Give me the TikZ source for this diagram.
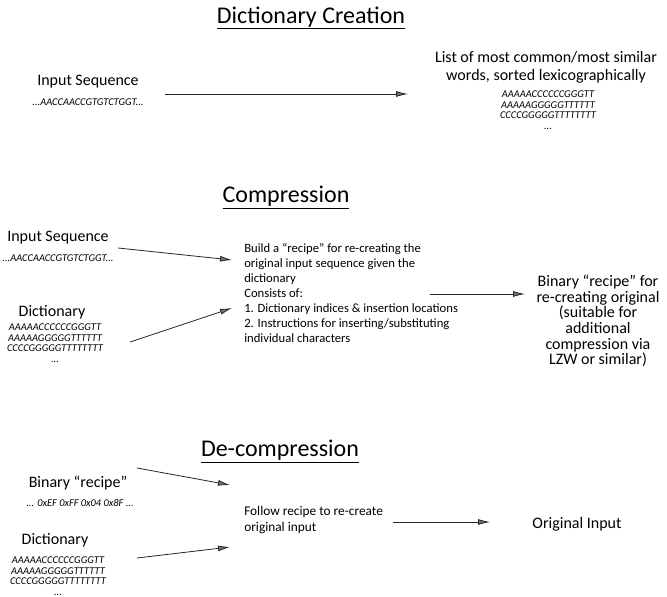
\documentclass[tikz,border=0pt]{standalone}
\usepackage{fontspec}
\setmainfont{Carlito}
\usetikzlibrary{arrows.meta}

\tikzset{
  heading/.style={font=\fontsize{18}{22}\selectfont, inner sep=0pt},
  lbl/.style={font=\fontsize{12}{13.5}\selectfont, align=center, inner sep=0pt},
  seqs/.style={font=\fontsize{7.8}{8}\selectfont\itshape, align=center, inner sep=0pt},
  note/.style={font=\fontsize{9.5}{11.25}\selectfont, align=left, inner sep=0pt, anchor=west},
  result/.style={font=\fontsize{12}{11.7}\selectfont, align=center, inner sep=0pt},
  flow/.style={draw=black!85, line width=0.6pt, -{Latex[length=9pt,width=4.5pt,fill=black!55]}}
}

\begin{document}
\begin{tikzpicture}[x=0.75pt,y=-0.75pt]
\useasboundingbox (0,0) rectangle (667,596);

% dictionary creation
\node[heading] (t1) at (311,18) {\underline{Dictionary Creation}};
\node[lbl] (in1) at (88,82) {Input Sequence};
\node[seqs] (sq1) at (88,102) {...AACCAACCGTGTCTGGT...};
\node[lbl] (ls1) at (546,67) {List of most common/most similar\\words, sorted lexicographically};
\node[seqs] (dc1) at (548,110) {AAAAACCCCCCGGGTT\\AAAAAGGGGGTTTTTT\\CCCCGGGGGTTTTTTTT\\...};
\coordinate (c1s) at (165,94);
\coordinate (c1e) at (408,94);
\draw[flow] (c1s) -- (c1e);

% compression
\node[heading] (t2) at (286,198) {\underline{Compression}};
\node[lbl] (in2) at (58,238) {Input Sequence};
\node[seqs] (sq2) at (58,258) {...AACCAACCGTGTCTGGT...};
\node[lbl] (dn2) at (52,312) {Dictionary};
\node[seqs] (dc2) at (55,343) {AAAAACCCCCCGGGTT\\AAAAAGGGGGTTTTTT\\CCCCGGGGGTTTTTTTT\\...};
\node[note] (nt2) at (244,293) {Build a “recipe” for re-creating the\\original input sequence given the\\dictionary\\Consists of:\\1. Dictionary indices \& insertion locations\\2. Instructions for inserting/substituting\\individual characters};
\node[result] (out2) at (598,321) {Binary “recipe” for\\re-creating original\\(suitable for\\additional\\compression via\\LZW or similar)};
\coordinate (c2as) at (118,248);
\coordinate (c2ae) at (232,260);
\coordinate (c2bs) at (130,342);
\coordinate (c2be) at (232,308);
\coordinate (c2cs) at (430,294);
\coordinate (c2ce) at (525,294);
\draw[flow] (c2as) -- (c2ae);
\draw[flow] (c2bs) -- (c2be);
\draw[flow] (c2cs) -- (c2ce);

% de-compression
\node[heading] (t3) at (280,452) {\underline{De-compression}};
\node[lbl] (bn3) at (78,483) {Binary “recipe”};
\node[seqs] (hx3) at (80,503) {... 0xEF 0xFF 0x04 0x8F ...};
\node[lbl] (dn3) at (55,540) {Dictionary};
\node[seqs] (dc3) at (58,576) {AAAAACCCCCCGGGTT\\AAAAAGGGGGTTTTTT\\CCCCGGGGGTTTTTTTT\\...};
\node[note, font=\fontsize{10}{12.5}\selectfont] (nt3) at (244,520) {Follow recipe to re-create\\original input};
\node[lbl] (or3) at (577,524) {Original Input};
\coordinate (c3as) at (137,468);
\coordinate (c3ae) at (230,485);
\coordinate (c3bs) at (137,558);
\coordinate (c3be) at (230,547);
\coordinate (c3cs) at (393,522);
\coordinate (c3ce) at (490,522);
\draw[flow] (c3as) -- (c3ae);
\draw[flow] (c3bs) -- (c3be);
\draw[flow] (c3cs) -- (c3ce);

\end{tikzpicture}
\end{document}
